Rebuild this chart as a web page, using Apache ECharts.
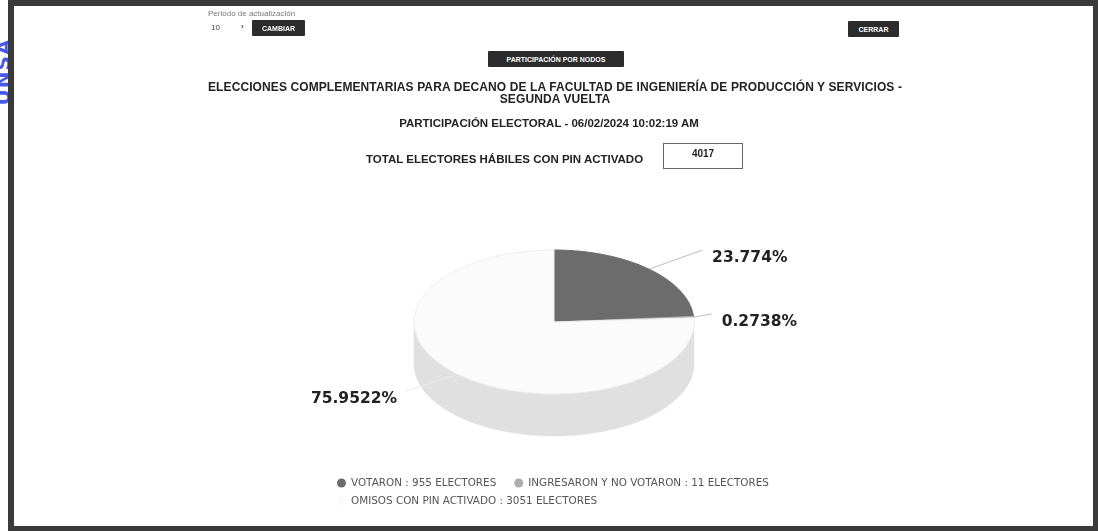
<!DOCTYPE html>
<html>
<head>
<meta charset="utf-8">
<script src="https://cdn.jsdelivr.net/npm/echarts@6/dist/echarts.min.js"></script>
<style>
  html, body { margin: 0; padding: 0; background: #fff; }
  body { width: 1098px; height: 531px; position: relative; overflow: hidden; font-family: "Liberation Sans", Arial, sans-serif; }
  #chart { position: absolute; left: 0; top: 0; width: 1098px; height: 531px; }
  .frame { position: absolute; left: 8px; top: 0; width: 1090px; height: 531px; box-sizing: border-box;
    border-style: solid; border-color: #3a3a3a; border-width: 6px 5px 5px 6px; pointer-events: none; }
  .side-mark { position: absolute; left: -30px; top: 60px; transform: rotate(-90deg); color: #4a58e6;
    font: bold 20px "DejaVu Sans", sans-serif; letter-spacing: 1px; }
  .small { position: absolute; font-size: 8px; color: #777; }
  .btn { position: absolute; background: #2c2c2c; color: #fff; font: bold 7px "Liberation Sans", Arial, sans-serif;
    display: flex; align-items: center; justify-content: center; border-radius: 1px; }
  .line { position: absolute; left: 0; width: 1098px; text-align: center; font-weight: bold; color: #222; }
  .box { position: absolute; left: 663px; top: 143px; width: 80px; height: 26px; box-sizing: border-box;
    border: 1px solid #666; font: bold 10px "Liberation Sans", Arial, sans-serif; color: #222;
    display: flex; align-items: center; justify-content: center; padding-bottom: 6px; }
</style>
</head>
<body>
<div id="chart"></div>
<div class="side-mark">UNSA</div>
<div class="frame"></div>

<div class="small" style="left:208px; top:9px;">Periodo de actualización</div>
<div class="small" style="left:211px; top:23px; color:#444;">10</div>
<div class="small" style="left:241px; top:22px; color:#444; font-weight:bold;">›</div>
<div class="btn" style="left:252px; top:20px; width:53px; height:16px;">CAMBIAR</div>
<div class="btn" style="left:848px; top:21px; width:51px; height:16px;">CERRAR</div>
<div class="btn" style="left:488px; top:51px; width:136px; height:16px;">PARTICIPACIÓN POR NODOS</div>

<div class="line" style="top:80px; font-size:12px; letter-spacing:0.1px; left:6px;">ELECCIONES COMPLEMENTARIAS PARA DECANO DE LA FACULTAD DE INGENIERÍA DE PRODUCCIÓN Y SERVICIOS -</div>
<div class="line" style="top:92px; font-size:12px; letter-spacing:0.1px; left:6px;">SEGUNDA VUELTA</div>
<div class="line" style="top:117px; font-size:11.5px;">PARTICIPACIÓN ELECTORAL - 06/02/2024 10:02:19 AM</div>
<div class="line" style="top:153px; font-size:11.5px; left:366px; width:auto;">TOTAL ELECTORES HÁBILES CON PIN ACTIVADO</div>
<div class="box" id="total"></div>

<script>
// datos
const categories = ['VOTARON', 'INGRESARON Y NO VOTARON', 'OMISOS CON PIN ACTIVADO'];
const electores = [955, 11, 3051];

// estilos
const topColors = ['#6c6c6c', '#adadad', '#fbfbfb'];
const sideColors = ['#555555', '#949494', '#e0e0e0'];
const labelEnds = [[53, -19], [18, -3], [-53, 17]]; // fin de la línea guía respecto al borde

const total = electores.reduce((a, b) => a + b, 0);
document.getElementById('total').textContent = total;

// pastel en perspectiva
const CX = 554, CY = 322, RX = 140, RY = 72, DEPTH = 42;

const starts = [];
electores.reduce((acc, v) => { starts.push(acc); return acc + v; }, 0);

const toAngle = (v) => -Math.PI / 2 + (v / total) * Math.PI * 2;
const rim = (a, dy) => [CX + RX * Math.cos(a), CY + RY * Math.sin(a) + (dy || 0)];
const arc = (a0, a1, dy) => {
  const n = Math.max(2, Math.ceil((a1 - a0) / (Math.PI / 180)));
  const pts = [];
  for (let i = 0; i <= n; i++) pts.push(rim(a0 + (a1 - a0) * i / n, dy));
  return pts;
};
const pctText = (v) => parseFloat((v / total * 100).toFixed(4)) + '%';

const makeRender = (idx) => (params, api) => {
  const start = api.value(0);
  const value = api.value(1);
  const a0 = toAngle(start);
  const a1 = toAngle(start + value);
  const children = [];

  // pared lateral visible (mitad frontal)
  const s0 = Math.max(a0, 0);
  const s1 = Math.min(a1, Math.PI);
  if (s1 > s0) {
    children.push({
      type: 'polygon',
      shape: { points: arc(s0, s1, 0).concat(arc(s0, s1, DEPTH).reverse()) },
      style: { fill: sideColors[idx], stroke: sideColors[idx], lineWidth: 0.5 }
    });
  }
  // cara superior
  children.push({
    type: 'polygon',
    shape: { points: [[CX, CY]].concat(arc(a0, a1, 0)) },
    style: { fill: topColors[idx], stroke: idx === 2 ? '#ededed' : topColors[idx], lineWidth: 1 }
  });

  // etiqueta
  const mid = (a0 + a1) / 2;
  const p0 = rim(mid, 0);
  const p1 = [p0[0] + labelEnds[idx][0], p0[1] + labelEnds[idx][1]];
  const right = labelEnds[idx][0] > 0;
  children.push({
    type: 'polyline',
    shape: { points: [p0, p1] },
    style: { stroke: idx === 2 ? '#ececec' : '#bdbdbd', lineWidth: 1, fill: null },
    z2: 5
  });
  children.push({
    type: 'text',
    x: p1[0] + (right ? 10 : -8),
    y: p1[1] + 8,
    style: {
      text: pctText(value),
      fill: '#222',
      font: 'bold 15.5px "DejaVu Sans", Verdana, sans-serif',
      align: right ? 'left' : 'right',
      verticalAlign: 'middle'
    },
    z2: 6
  });
  return { type: 'group', children };
};

const legendBase = {
  icon: 'circle',
  itemWidth: 9,
  itemHeight: 9,
  itemGap: 18,
  formatter: (name) => name + ' : ' + electores[categories.indexOf(name)] + ' ELECTORES',
  textStyle: { color: '#555', fontSize: 10.4, fontFamily: '"DejaVu Sans", sans-serif' }
};

const chart = echarts.init(document.getElementById('chart'), null, { renderer: 'canvas' });

chart.setOption({
  animation: false,
  legend: [
    Object.assign({}, legendBase, { left: 332, top: 473, data: categories.slice(0, 2) }),
    Object.assign({}, legendBase, { left: 332, top: 491, data: categories.slice(2) })
  ],
  series: categories.map((name, i) => ({
    type: 'custom',
    name,
    coordinateSystem: 'none',
    itemStyle: { color: topColors[i] },
    renderItem: makeRender(i),
    data: [[starts[i], electores[i]]]
  }))
});

window.addEventListener('resize', () => chart.resize());
</script>
</body>
</html>
